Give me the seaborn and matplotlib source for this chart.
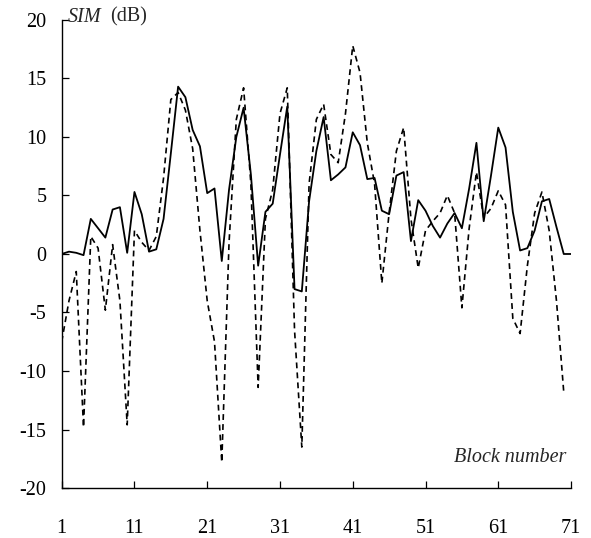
import numpy as np
import pandas as pd
import matplotlib
matplotlib.use("Agg")
import matplotlib.pyplot as plt
import seaborn as sns

blocks = list(range(1, 72))
sim_solid = [0.0, 0.2, 0.1, -0.1, 3.0, 2.2, 1.4, 3.8, 4.0, 0.1,
             5.3, 3.4, 0.2, 0.4, 3.0, 8.6, 14.3, 13.4, 10.6, 9.2,
             5.2, 5.6, -0.6, 5.5, 10.0, 12.5, 6.8, -1.0, 3.6, 4.3,
             8.5, 12.6, -3.0, -3.2, 4.5, 8.8, 11.7, 6.3, 6.8, 7.4,
             10.4, 9.3, 6.4, 6.5, 3.7, 3.4, 6.7, 7.0, 1.1, 4.6,
             3.7, 2.4, 1.4, 2.6, 3.5, 2.2, 5.6, 9.5, 2.8, 6.7,
             10.8, 9.1, 3.6, 0.3, 0.5, 2.0, 4.5, 4.7, 2.3, 0.0,
             0.0]
sim_dashed = [-7.5, -4.0, -1.5, -14.8, 1.5, 0.5, -4.8, 0.8, -4.0, -14.6,
              2.0, 1.0, 0.3, 1.5, 6.5, 13.2, 13.8, 12.3, 9.0, 2.0,
              -4.0, -7.5, -17.8, 1.0, 11.5, 14.2, 6.0, -11.4, 3.0, 5.5,
              12.0, 14.2, -6.5, -16.5, 6.0, 11.5, 12.8, 8.5, 7.8, 12.0,
              17.8, 15.5, 9.5, 6.0, -2.5, 3.5, 8.8, 10.8, 3.0, -1.2,
              2.0, 2.8, 3.5, 5.0, 3.5, -4.6, 2.2, 7.0, 3.1, 3.9,
              5.4, 4.2, -5.5, -6.8, -1.0, 3.5, 5.3, 2.0, -4.0, -11.8,
              np.nan]
x_ticks = [1, 11, 21, 31, 41, 51, 61, 71]
y_ticks = [-20, -15, -10, -5, 0, 5, 10, 15, 20]

sns.set_style("ticks")
plt.rcParams["font.family"] = ["Liberation Serif", "DejaVu Serif"]

fig = plt.figure(figsize=(5.91, 5.38), dpi=100)
ax = fig.add_axes([0.1044, 0.0929, 0.8618, 0.870])

df = pd.DataFrame({"block": blocks, "solid": sim_solid, "dashed": sim_dashed})
sns.lineplot(data=df, x="block", y="solid", color="black", lw=1.3,
             estimator=None, ax=ax)
sns.lineplot(data=df, x="block", y="dashed", color="black", lw=1.2,
             estimator=None, linestyle=(0, (3.5, 2.5)), ax=ax)

ax.set_xlim(1, 71)
ax.set_ylim(-20, 20)
ax.set_xticks(x_ticks)
ax.set_yticks(y_ticks)
ax.set_xticklabels([str(t) for t in x_ticks])
ax.set_yticklabels([str(t) for t in y_ticks])
ax.tick_params(axis="x", direction="in", length=5, width=0.9, pad=22,
               labelsize=14.5, colors="black")
ax.tick_params(axis="y", direction="in", length=5, width=0.9, pad=11,
               labelsize=14.5, colors="black")
ax.set_xlabel("")
ax.set_ylabel("")
for s in ["top", "right"]:
    ax.spines[s].set_visible(False)
for s in ["left", "bottom"]:
    ax.spines[s].set_linewidth(1.0)
    ax.spines[s].set_color("black")

fig.text(68 / 591, 1 - 17 / 538, "SIM", fontsize=14.5, style="italic",
         ha="left", va="center")
fig.text(110 / 591, 1 - 17 / 538, "(dB)", fontsize=14.5,
         ha="left", va="center")
fig.text(566 / 591, 1 - 457 / 538, "Block number", fontsize=14.5,
         style="italic", ha="right", va="center")

fig.savefig("out.png", dpi=100)
